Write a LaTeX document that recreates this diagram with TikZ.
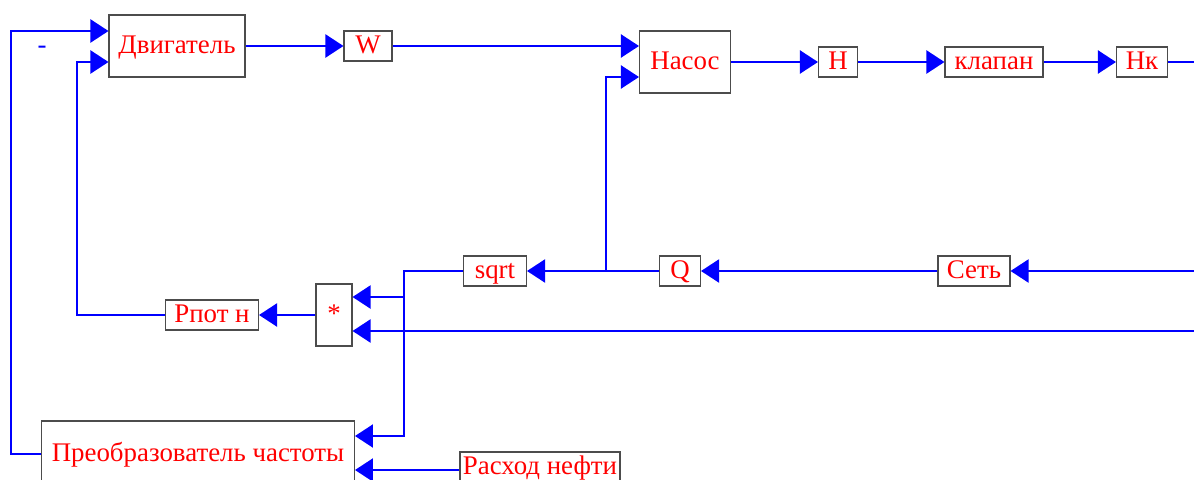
\documentclass[tikz,border=0pt]{standalone}
\usepackage{fontspec}
\setmainfont{Liberation Serif}
\usepackage{tikz}
\usetikzlibrary{arrows.meta,positioning,calc}

\begin{document}
\begin{tikzpicture}[
    x=0.02cm, y=-0.02cm,
    block/.style={draw=black!70, line width=0.6pt, rectangle, fill=white, text=red, inner sep=1pt, text height=12pt, text depth=3pt, font=\fontsize{15.3}{17}\selectfont},
    arrow/.style={-{Triangle[length=0.36cm, width=0.46cm]}, blue, line width=1.2pt},
    wire/.style={blue, line width=1.2pt}
]
    \useasboundingbox (0,0) rectangle (1194,480);

    % Upper chain
    \node [block, minimum width=2.72cm, minimum height=1.24cm] (dvig) at (177,46) {Двигатель};
    \node [block, minimum width=0.96cm, minimum height=0.6cm] (w) at (368,46) {W};
    \node [block, minimum width=1.82cm, minimum height=1.24cm] (nasos) at (685,62) {Насос};
    \node [block, minimum width=0.78cm, minimum height=0.6cm] (h) at (838,62) {Н};
    \node [block, minimum width=1.96cm, minimum height=0.6cm] (klapan) at (994,62) {клапан};
    \node [block, minimum width=1.02cm, minimum height=0.6cm] (hk) at (1142,62) {Нк};
    \coordinate (out_hk) at (1194,62);

    % Lower chain
    \node [block, minimum width=1.44cm, minimum height=0.6cm] (set) at (974,271) {Сеть};
    \node [block, minimum width=0.82cm, minimum height=0.6cm] (q) at (680,271) {Q};
    \node [block, minimum width=1.26cm, minimum height=0.6cm] (sqrt) at (495,271) {sqrt};
    \node [block, minimum width=0.72cm, minimum height=1.24cm] (mult) at (334,315) {*};
    \node [block, minimum width=1.86cm, minimum height=0.6cm] (rpot) at (212,315) {Рпот н};
    \node [block, minimum width=6.26cm, minimum height=1.32cm] (preob) at (198,454) {Преобразователь частоты};
    \node [block, minimum width=3.2cm, minimum height=0.72cm, inner sep=0pt, text depth=7pt] (rashod) at (540,470) {Расход нефти};
    \coordinate (in_set) at (1194,271);
    \coordinate (in_k) at (1194,331);

    % Sign
    \node [blue, font=\fontsize{15.3}{17}\selectfont] (minus) at (42,50) {-};

    % Ports
    \coordinate (dvig_a) at ([yshift=0.3cm]dvig.west);
    \coordinate (dvig_b) at ([yshift=-0.32cm]dvig.west);
    \coordinate (nasos_a) at ([yshift=0.32cm]nasos.west);
    \coordinate (nasos_b) at ([yshift=-0.3cm]nasos.west);
    \coordinate (mult_a) at ([yshift=0.36cm]mult.east);
    \coordinate (mult_b) at ([yshift=-0.32cm]mult.east);
    \coordinate (preob_a) at ([yshift=0.36cm]preob.east);
    \coordinate (preob_b) at ([yshift=-0.28cm]preob.east);

    % Connections
    \draw [arrow] (dvig) -- (w);
    \draw [arrow] (w.east) -- (w.east -| nasos_a);
    \draw [arrow] (nasos) -- (h);
    \draw [arrow] (h) -- (klapan);
    \draw [arrow] (klapan) -- (hk);
    \draw [wire] (hk) -- (out_hk);

    \draw [arrow] (in_set) -- (set);
    \draw [arrow] (set) -- (q);
    \draw [arrow] (q) -- (sqrt);
    \coordinate (jq) at ($(q.west)+(-53,0)$);
    \draw [arrow] (jq) |- (nasos_b);

    \coordinate (jsq) at ($(sqrt.west)+(-59,0)$);
    \draw [arrow] (sqrt.west) -- (jsq) |- (preob_a);
    \draw [arrow] (jsq |- mult_a) -- (mult_a);
    \draw [arrow] (in_k) -- (in_k -| mult_b);

    \draw [arrow] (mult) -- (rpot);
    \draw [arrow] (rpot.west) -- ++(-88,0) |- (dvig_b);
    \draw [arrow] (preob.west) -- ++(-30,0) |- (dvig_a);
    \draw [arrow] (rashod.west) -- (rashod.west -| preob_b);

\end{tikzpicture}
\end{document}
